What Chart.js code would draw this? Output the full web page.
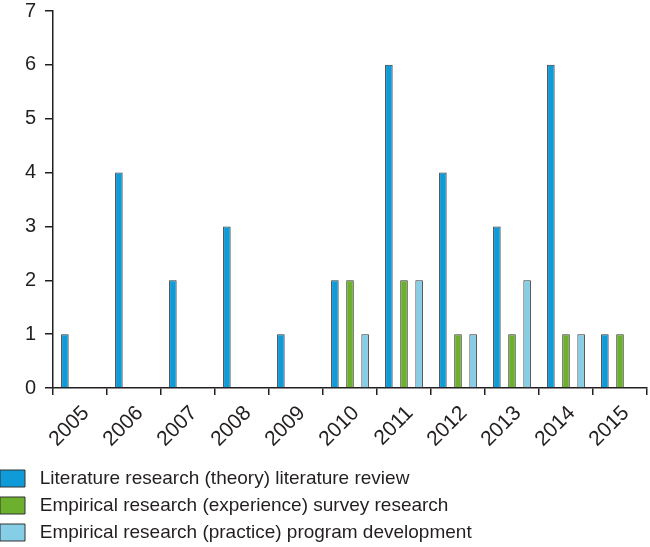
<!DOCTYPE html>
<html>
<head>
<meta charset="utf-8">
<script src="https://cdn.jsdelivr.net/npm/chart.js@4/dist/chart.umd.min.js"></script>
<style>
  html, body { margin: 0; padding: 0; background: #fff; }
  #wrap { width: 650px; height: 547px; position: relative; }
</style>
</head>
<body>
<div id="wrap"><canvas id="c" width="650" height="547"></canvas></div>
<script>
const years = ["2005","2006","2007","2008","2009","2010","2011","2012","2013","2014","2015"];
const literatureReview = [1, 4, 2, 3, 1, 2, 6, 4, 3, 6, 1];
const surveyResearch   = [0, 0, 0, 0, 0, 2, 2, 1, 1, 1, 1];
const programDev       = [0, 0, 0, 0, 0, 1, 2, 1, 2, 1, 0];
const seriesNames = [
  "Literature research (theory) literature review",
  "Empirical research (experience) survey research",
  "Empirical research (practice) program development"
];
const yTicks = [0, 1, 2, 3, 4, 5, 6, 7];

const ink = "#231f20";
const font = "'Liberation Sans', Arial, Helvetica, sans-serif";

new Chart(document.getElementById("c"), {
  type: "bar",
  data: {
    labels: years,
    datasets: [
      { label: " " + seriesNames[0], data: literatureReview, backgroundColor: "#0f9bd7", borderColor: "#333333", borderWidth: 1, borderSkipped: "bottom" },
      { label: " " + seriesNames[1], data: surveyResearch, backgroundColor: "#6cb02e", borderColor: "#333333", borderWidth: 1, borderSkipped: "bottom" },
      { label: " " + seriesNames[2], data: programDev, backgroundColor: "#86cde6", borderColor: "#333333", borderWidth: 1, borderSkipped: "bottom" }
    ]
  },
  options: {
    responsive: false,
    animation: false,
    devicePixelRatio: 1,
    layout: { padding: { left: -8, right: 3, top: 11, bottom: -5 } },
    datasets: { bar: { categoryPercentage: 0.84, barPercentage: 0.5 } },
    plugins: {
      tooltip: { enabled: false },
      legend: {
        position: "bottom",
        align: "start",
        labels: {
          font: { family: font, size: 19 },
          color: ink,
          boxWidth: 25,
          boxHeight: 17,
          padding: 8
        }
      }
    },
    scales: {
      x: {
        offset: true,
        grid: { offset: true, drawOnChartArea: false, drawTicks: true, tickLength: 7, color: ink, lineWidth: 1.5 },
        border: { display: true, color: ink, width: 1.5 },
        ticks: { font: { family: font, size: 21 }, color: ink, minRotation: 45, maxRotation: 45, padding: 6, labelOffset: 6 },
        afterFit: (s) => { s.height = 73; }
      },
      y: {
        min: 0,
        max: 7,
        afterBuildTicks: (s) => { s.ticks = yTicks.map(v => ({ value: v })); },
        grid: { drawOnChartArea: false, drawTicks: true, tickLength: 8, color: ink, lineWidth: 1.5 },
        border: { display: true, color: ink, width: 1.5 },
        ticks: { font: { family: font, size: 20 }, color: ink, padding: 9 },
        afterFit: (s) => { s.width = 61; s.paddingTop = 0; s.paddingBottom = 0; }
      }
    }
  }
});
</script>
</body>
</html>
